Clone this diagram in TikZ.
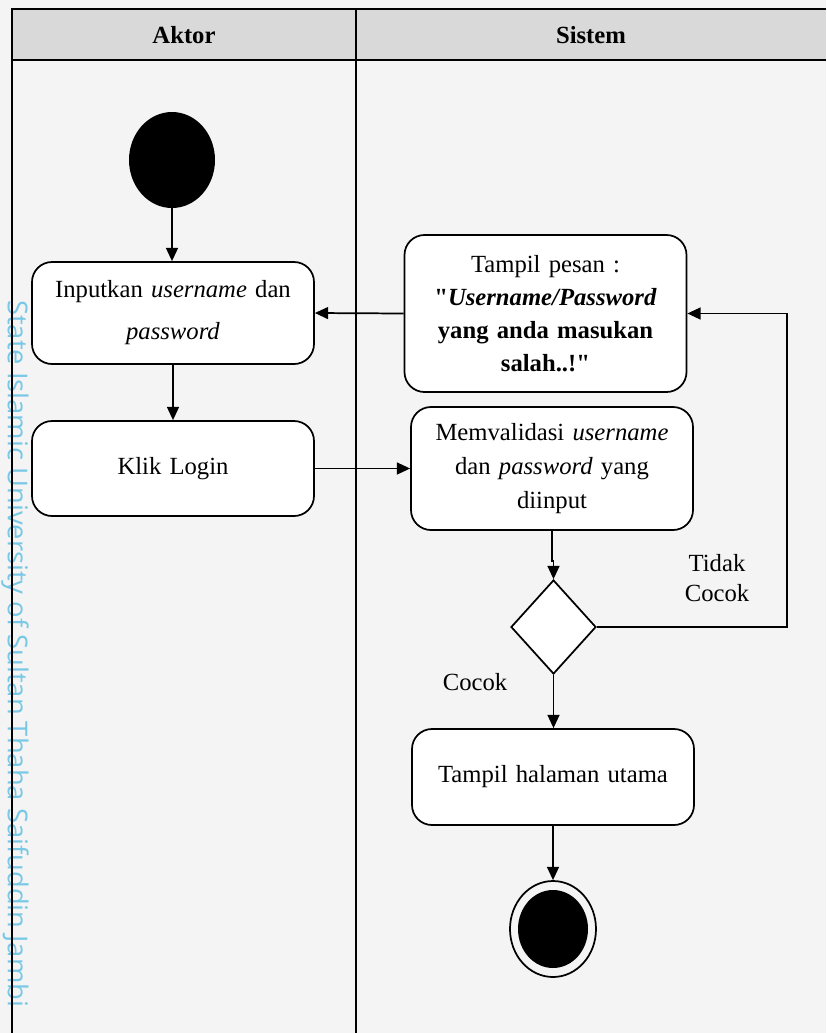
\documentclass[tikz,border=0pt]{standalone}
\usepackage{fontspec}
\setmainfont{Liberation Serif}[Ligatures=TeXOff]
\newfontfamily\wmfont{Open Sans}
\usetikzlibrary{shapes.geometric,arrows.meta,positioning}
\definecolor{bgpage}{HTML}{F4F4F4}
\definecolor{headgray}{HTML}{D9D9D9}
\definecolor{wmblue}{RGB}{120,200,230}
\newcommand{\txt}[1]{\fontsize{18.5}{#1}\selectfont}

\begin{document}
\begin{tikzpicture}[x=0.75pt,y=-0.75pt]
	\tikzset{action/.style={draw,fill=white,rounded corners=15pt,line width=1.3pt,minimum width=211.5pt,text width=200pt,align=center,font=\txt{25pt}}}
	\tikzset{flow/.style={-{Triangle[length=10pt,width=9pt]},line width=1.3pt}}
	\tikzset{lane/.style={line width=1.3pt}}
	\tikzset{cond/.style={align=center,font=\txt{22.5pt}}}
	\useasboundingbox (0,0) rectangle (826,1033);
	\fill[bgpage] (0,0) rectangle (826,1033);
	% watermark
	\node[wmblue,rotate=-90,anchor=west,inner sep=0,font=\wmfont\fontsize{20.5}{21}\selectfont] (wm) at (15,300) {State Islamic University of Sultan Thaha Saifuddin Jambi};
	% swimlanes
	\fill[headgray] (12,9) rectangle (826,60);
	\draw[lane] (826,9) -- (12,9) -- (12,1036);
	\draw[lane] (12,60) -- (826,60);
	\draw[lane] (356,9) -- (356,1036);
	\node[font=\txt{20pt}\bfseries] (aktor) at (184,35) {Aktor};
	\node[font=\txt{20pt}\bfseries] (sistem) at (591,35) {Sistem};
	% activities
	\node[fill,ellipse,minimum width=64.5pt,minimum height=72pt,inner sep=0] (start) at (172,160) {};
	\node[action,minimum height=76.5pt,font=\txt{31.5pt}] (input) at (173,313) {Inputkan \textit{username} dan\\\textit{password}};
	\node[action,minimum height=71.25pt] (klik) at (173,468.5) {Klik Login};
	\node[action,minimum height=117.75pt,font=\txt{24.75pt}] (pesan) at (545.5,313.5) {Tampil pesan :\\\textbf{"\textit{Username/Password}}\\\textbf{yang anda masukan}\\\textbf{salah..!"}};
	\node[action,minimum height=92.25pt,font=\txt{25.5pt}] (validasi) at (552,468.5) {Memvalidasi \textit{username}\\dan \textit{password} yang\\diinput};
	\node[draw,fill=white,diamond,line width=1.3pt,minimum width=63.75pt,minimum height=70.5pt,inner sep=0] (cek) at (553.5,627) {};
	\node[action,minimum height=72pt] (utama) at (553,777) {Tampil halaman utama};
	\node[draw,ellipse,line width=1.3pt,minimum width=64.5pt,minimum height=72pt,inner sep=0] (finish) at (553,929) {};
	\node[fill,ellipse,minimum width=52.5pt,minimum height=58.5pt,inner sep=0] (finishdot) at (finish) {};
	\coordinate (balik) at (787,627);
	% flows
	\draw[flow] (start.south) -- (start.south |- input.north);
	\draw[flow] (input) -- (klik);
	\draw[flow] (klik.east) -- (validasi.west);
	\draw[flow] (pesan.west) -- (input.east);
	\draw[flow] (validasi.south) -- ++(0,30) -| (cek.north);
	\draw[flow] (cek.east) -- (balik) |- (pesan.east);
	\draw[flow] (cek.south) -- (cek.south |- utama.north);
	\draw[flow] (utama.south) -- (finish.north);
	\node[cond] (tidak) at (717,578) {Tidak\\Cocok};
	\node[cond] (cocok) at (475,682) {Cocok};
\end{tikzpicture}
\end{document}
